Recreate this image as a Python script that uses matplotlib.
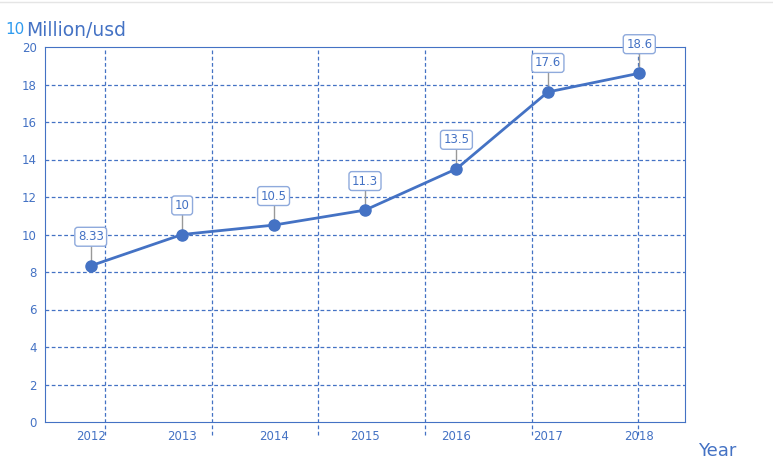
import matplotlib.pyplot as plt

years = ['2012', '2013', '2014', '2015', '2016', '2017', '2018']
values = [8.33, 10, 10.5, 11.3, 13.5, 17.6, 18.6]
labels = ['8.33', '10', '10.5', '11.3', '13.5', '17.6', '18.6']
yticks = [0, 2, 4, 6, 8, 10, 12, 14, 16, 18, 20]

W, H = 773, 474
fig = plt.figure(figsize=(W/100, H/100), dpi=100)
ax = fig.add_axes([45/W, (H-422)/H, 640/W, 375/H])
blue = '#4472C4'
x = list(range(len(years)))
ax.plot(x, values, color=blue, lw=2, marker='o', ms=8, zorder=5)
ax.set_xlim(-0.5, 6.5)
ax.set_ylim(0, 20)
ax.set_yticks(yticks)
ax.set_xticks(x)
ax.set_xticklabels(years)
ax.tick_params(length=0, colors=blue, labelsize=8.5, pad=6)
for s in ax.spines.values():
    s.set_color(blue)
for yv in yticks[1:-1]:
    ax.axhline(yv, color=blue, lw=0.9, ls=(0, (3, 2)), zorder=1)
# vertical grid lines (offset from categories), extending below axis
step = 640 / 6 / (640 / 7)
for k in range(6):
    xv = (105 - 45) / (640 / 7) - 0.5 + k * step
    if xv < 6.45:
        ax.plot([xv, xv], [-0.7, 20], color=blue, lw=0.9, ls=(0, (3, 2)),
                clip_on=False, zorder=1)
for xi, v, t in zip(x, values, labels):
    ax.plot([xi, xi], [v, v + 1.2], color='#999999', lw=1, zorder=3)
    ax.text(xi, v + 1.55, t, ha='center', va='center', fontsize=8.5, color=blue,
            bbox=dict(boxstyle='round,pad=0.25', fc='white', ec='#8FAADC', lw=1), zorder=4)
fig.text(5/W, 1 - 30/H, '10', color='#2E9BEF', fontsize=11, va='center')
fig.text(26/W, 1 - 30/H, 'Million/usd', color=blue, fontsize=13.5, va='center')
fig.text(698/W, 1 - 451/H, 'Year', color=blue, fontsize=13, va='center')
fig.add_artist(plt.Line2D([0, 1], [1 - 1.5/H] * 2, color='#e5e5e5', lw=1))
fig.savefig('out.png', dpi=100)
